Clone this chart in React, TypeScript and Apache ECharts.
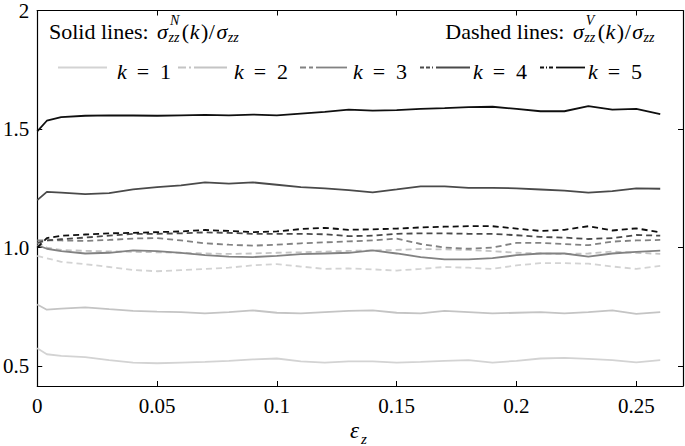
import React, { useEffect, useRef } from "react";
import * as echarts from "echarts";

// ---- data ----
const xs = [0, 0.004, 0.01, 0.02, 0.03, 0.04, 0.05, 0.06, 0.07, 0.08, 0.09, 0.1, 0.11, 0.12, 0.13, 0.14, 0.15, 0.16, 0.17, 0.18, 0.19, 0.2, 0.21, 0.22, 0.23, 0.24, 0.25, 0.26];

const solidK1 = [0.575, 0.55, 0.543, 0.538, 0.525, 0.515, 0.512, 0.515, 0.518, 0.522, 0.528, 0.532, 0.52, 0.515, 0.52, 0.52, 0.515, 0.518, 0.522, 0.525, 0.515, 0.522, 0.532, 0.535, 0.53, 0.525, 0.516, 0.525];
const solidK2 = [0.76, 0.738, 0.742, 0.748, 0.74, 0.733, 0.73, 0.728, 0.722, 0.728, 0.735, 0.725, 0.722, 0.728, 0.733, 0.735, 0.725, 0.722, 0.733, 0.728, 0.722, 0.725, 0.728, 0.722, 0.728, 0.735, 0.72, 0.728];
const solidK3 = [1.01, 0.995, 0.985, 0.975, 0.978, 0.988, 0.985, 0.978, 0.968, 0.962, 0.96, 0.965, 0.972, 0.975, 0.978, 0.988, 0.975, 0.96, 0.95, 0.95, 0.955, 0.968, 0.975, 0.975, 0.962, 0.975, 0.982, 0.987];
const solidK4 = [1.2, 1.235, 1.232, 1.225, 1.23, 1.245, 1.255, 1.262, 1.275, 1.27, 1.275, 1.265, 1.255, 1.25, 1.242, 1.233, 1.245, 1.258, 1.258, 1.252, 1.252, 1.25, 1.245, 1.24, 1.232, 1.238, 1.25, 1.248];
const solidK5 = [1.49, 1.535, 1.55, 1.556, 1.558, 1.557, 1.556, 1.558, 1.56, 1.558, 1.561, 1.558, 1.565, 1.572, 1.582, 1.578, 1.58, 1.585, 1.588, 1.592, 1.594, 1.585, 1.575, 1.575, 1.597, 1.582, 1.585, 1.563];

const dashedK1 = [0.965, 0.955, 0.94, 0.93, 0.918, 0.905, 0.9, 0.905, 0.91, 0.915, 0.925, 0.93, 0.92, 0.91, 0.912, 0.908, 0.903, 0.91, 0.918, 0.915, 0.91, 0.925, 0.934, 0.934, 0.932, 0.92, 0.91, 0.923];
const dashedK2 = [1.022, 1.0, 0.99, 0.986, 0.984, 0.982, 0.98, 0.978, 0.975, 0.973, 0.975, 0.978, 0.98, 0.983, 0.986, 0.988, 0.99, 0.994, 0.992, 0.99, 0.985, 0.978, 0.975, 0.973, 0.975, 0.983, 0.978, 0.973];
const dashedK3 = [1.03, 1.03, 1.03, 1.028, 1.032, 1.038, 1.04, 1.03, 1.018, 1.012, 1.008, 1.012, 1.018, 1.022, 1.026, 1.03, 1.038, 1.015, 1.0, 0.995, 1.0, 1.02, 1.02, 1.015, 1.01, 1.025, 1.03, 1.032];
const dashedK4 = [1.02, 1.03, 1.035, 1.042, 1.05, 1.058, 1.058, 1.06, 1.064, 1.062, 1.058, 1.058, 1.058, 1.056, 1.048, 1.05, 1.058, 1.06, 1.06, 1.058, 1.058, 1.052, 1.045, 1.042, 1.036, 1.04, 1.053, 1.05];
const dashedK5 = [1.0, 1.04, 1.05, 1.055, 1.06, 1.062, 1.065, 1.068, 1.074, 1.07, 1.065, 1.068, 1.078, 1.083, 1.075, 1.077, 1.08, 1.085, 1.088, 1.09, 1.09, 1.08, 1.07, 1.075, 1.09, 1.072, 1.081, 1.064];

const kValues = ["1", "2", "3", "4", "5"];
const xTickValues = [0, 0.05, 0.1, 0.15, 0.2, 0.25];
const xTickLabels = ["0", "0.05", "0.1", "0.15", "0.2", "0.25"];
const yTickValues = [0.5, 1, 1.5, 2];
const yTickLabels = ["0.5", "1.0", "1.5", "2"];

// ---- styling ----
const COLORS = ["#d3d3d3", "#c4c4c4", "#828282", "#4a4a4a", "#0f0f0f"];
const FAM = "Liberation Serif";

let mctx: CanvasRenderingContext2D | null = null;
function tw(text: string, size: number, italic: boolean) {
  if (!mctx) mctx = document.createElement("canvas").getContext("2d");
  mctx!.font = `${italic ? "italic " : ""}${size}px "${FAM}"`;
  return mctx!.measureText(text).width;
}
function txt(text: string, x: number, y: number, size: number, italic: boolean, align = "left") {
  const style: any = {
    text,
    fontSize: size,
    fontFamily: FAM,
    fill: "#000",
    align,
    verticalAlign: "middle",
  };
  if (italic) style.fontStyle = "italic";
  return { type: "text", x, y, silent: true, style };
}

type Frag = { t?: string; it?: boolean; sup?: string; sub?: string; gap?: number };
const M = 22;
const S = 14;

function mathRun(frags: Frag[], x0: number, yc: number) {
  const els: any[] = [];
  let x = x0;
  for (const f of frags) {
    if (f.t !== undefined) {
      els.push(txt(f.t, x, yc, M, !!f.it));
      x += tw(f.t, M, !!f.it) + (f.gap || 0);
    } else {
      let w = 0;
      if (f.sup) {
        els.push(txt(f.sup, x + 1.5, yc - 10.5, S, true));
        w = Math.max(w, tw(f.sup, S, true) + 1.5);
      }
      if (f.sub) {
        els.push(txt(f.sub, x, yc + 6.5, S, true));
        w = Math.max(w, tw(f.sub, S, true) + 1);
      }
      x += w + 1.5;
    }
  }
  return { els, width: x - x0 };
}

function header(label: string, sup: string): Frag[] {
  return [
    { t: label, gap: 3 },
    { t: "σ", it: true, gap: 0.5 },
    { sup, sub: "zz" },
    { t: "(", gap: 0.5 },
    { t: "k", it: true, gap: 1.5 },
    { t: ")", gap: 0.5 },
    { t: "/", gap: 1.5 },
    { t: "σ", it: true, gap: 0.5 },
    { sub: "zz" },
  ];
}

function buildGraphics() {
  const els: any[] = [];
  const yc = 31;
  els.push(...mathRun(header("Solid lines: ", "N"), 49, yc).els);
  const h2 = header("Dashed lines: ", "V");
  const w2 = mathRun(h2, 0, yc).width;
  els.push(...mathRun(h2, 657 - w2, yc).els);

  // legend row
  const lineStart = [58, 178, 300, 420, 540];
  const lineEnd = [107, 227, 347, 470, 585];
  const textX = [117, 234, 353, 473, 588];
  const ly = 67.5;
  const ty = 71;
  const dashes: any[] = [null, [8, 3], [6, 3], [4, 2], [4, 2, 1, 2]];
  for (let i = 0; i < 5; i++) {
    const a = lineStart[i];
    const b = lineEnd[i];
    if (i === 0) {
      els.push({ type: "line", silent: true, shape: { x1: a, y1: ly, x2: b, y2: ly }, style: { stroke: COLORS[i], lineWidth: 1.8 } });
    } else {
      els.push({ type: "line", silent: true, shape: { x1: a, y1: ly, x2: a + 13, y2: ly }, style: { stroke: COLORS[i], lineWidth: 1.8, lineDash: dashes[i] } });
      els.push({ type: "line", silent: true, shape: { x1: a + 16, y1: ly, x2: b, y2: ly }, style: { stroke: COLORS[i], lineWidth: 1.8 } });
    }
    const tx = textX[i];
    els.push(txt("k", tx, ty, M, true));
    els.push(txt("=", tx + 26, ty, M, false, "center"));
    els.push(txt(kValues[i], tx + 43, ty, M, false));
  }

  // x-axis title  ε_z
  els.push(txt("ε", 350, 430, 23, true));
  els.push(txt("z", 361, 439, 15, true));
  return els;
}

function fmt(values: number[], labels: string[]) {
  return (v: number) => {
    const i = values.findIndex((t) => Math.abs(t - v) < 1e-9);
    return i >= 0 ? labels[i] : "";
  };
}

export default function App() {
  const ref = useRef<HTMLDivElement>(null);
  useEffect(() => {
    document.body.style.margin = "0";
    if (!ref.current) return;
    const chart = echarts.init(ref.current, undefined, { renderer: "svg" });
    const solids = [solidK1, solidK2, solidK3, solidK4, solidK5];
    const dasheds = [dashedK1, dashedK2, dashedK3, dashedK4, dashedK5];
    const series: any[] = [];
    for (let k = 0; k < 5; k++) {
      series.push({
        type: "line",
        name: "solid k=" + kValues[k],
        data: xs.map((x, i) => [x, solids[k][i]]),
        showSymbol: false,
        symbol: "none",
        silent: true,
        lineStyle: { color: COLORS[k], width: 1.8, type: "solid" },
        xAxisIndex: 0,
        yAxisIndex: 0,
      });
      series.push({
        type: "line",
        name: "dashed k=" + kValues[k],
        data: xs.map((x, i) => [x, dasheds[k][i]]),
        showSymbol: false,
        symbol: "none",
        silent: true,
        lineStyle: { color: COLORS[k], width: 1.8, type: [6, 4] },
        xAxisIndex: 0,
        yAxisIndex: 0,
      });
    }
    const labelFont = { fontFamily: FAM, fontSize: 21, color: "#000" };
    const axisLine = { show: true, onZero: false, lineStyle: { color: "#000", width: 1.2 } };
    const tickStyle = { inside: true, length: 5, lineStyle: { color: "#000", width: 1 } };
    const xMin = 0;
    const xMax = 0.2695;
    const yMin = 0.416;
    const yMax = 2;
    const option: any = {
      animation: false,
      backgroundColor: "#fff",
      textStyle: { fontFamily: FAM },
      grid: { left: 35, right: 2, top: 9, bottom: 60, containLabel: false },
      xAxis: [
        {
          type: "value",
          position: "bottom",
          min: xMin,
          max: xMax,
          axisLine,
          axisTick: { ...tickStyle, customValues: xTickValues },
          axisLabel: { ...labelFont, margin: 9, customValues: xTickValues, formatter: fmt(xTickValues, xTickLabels) },
          splitLine: { show: false },
        },
        {
          type: "value",
          position: "top",
          min: xMin,
          max: xMax,
          axisLine,
          axisTick: { ...tickStyle, customValues: xTickValues },
          axisLabel: { show: false },
          splitLine: { show: false },
        },
      ],
      yAxis: [
        {
          type: "value",
          position: "left",
          min: yMin,
          max: yMax,
          axisLine,
          axisTick: { ...tickStyle, customValues: yTickValues },
          axisLabel: { ...labelFont, margin: 8, customValues: yTickValues, formatter: fmt(yTickValues, yTickLabels) },
          splitLine: { show: false },
        },
        {
          type: "value",
          position: "right",
          min: yMin,
          max: yMax,
          axisLine,
          axisTick: { ...tickStyle, customValues: yTickValues },
          axisLabel: { show: false },
          splitLine: { show: false },
        },
      ],
      series,
      graphic: buildGraphics(),
    };
    chart.setOption(option);
    return () => chart.dispose();
  }, []);
  return <div ref={ref} style={{ position: "fixed", left: 0, top: 0, width: 685, height: 446 }} />;
}
